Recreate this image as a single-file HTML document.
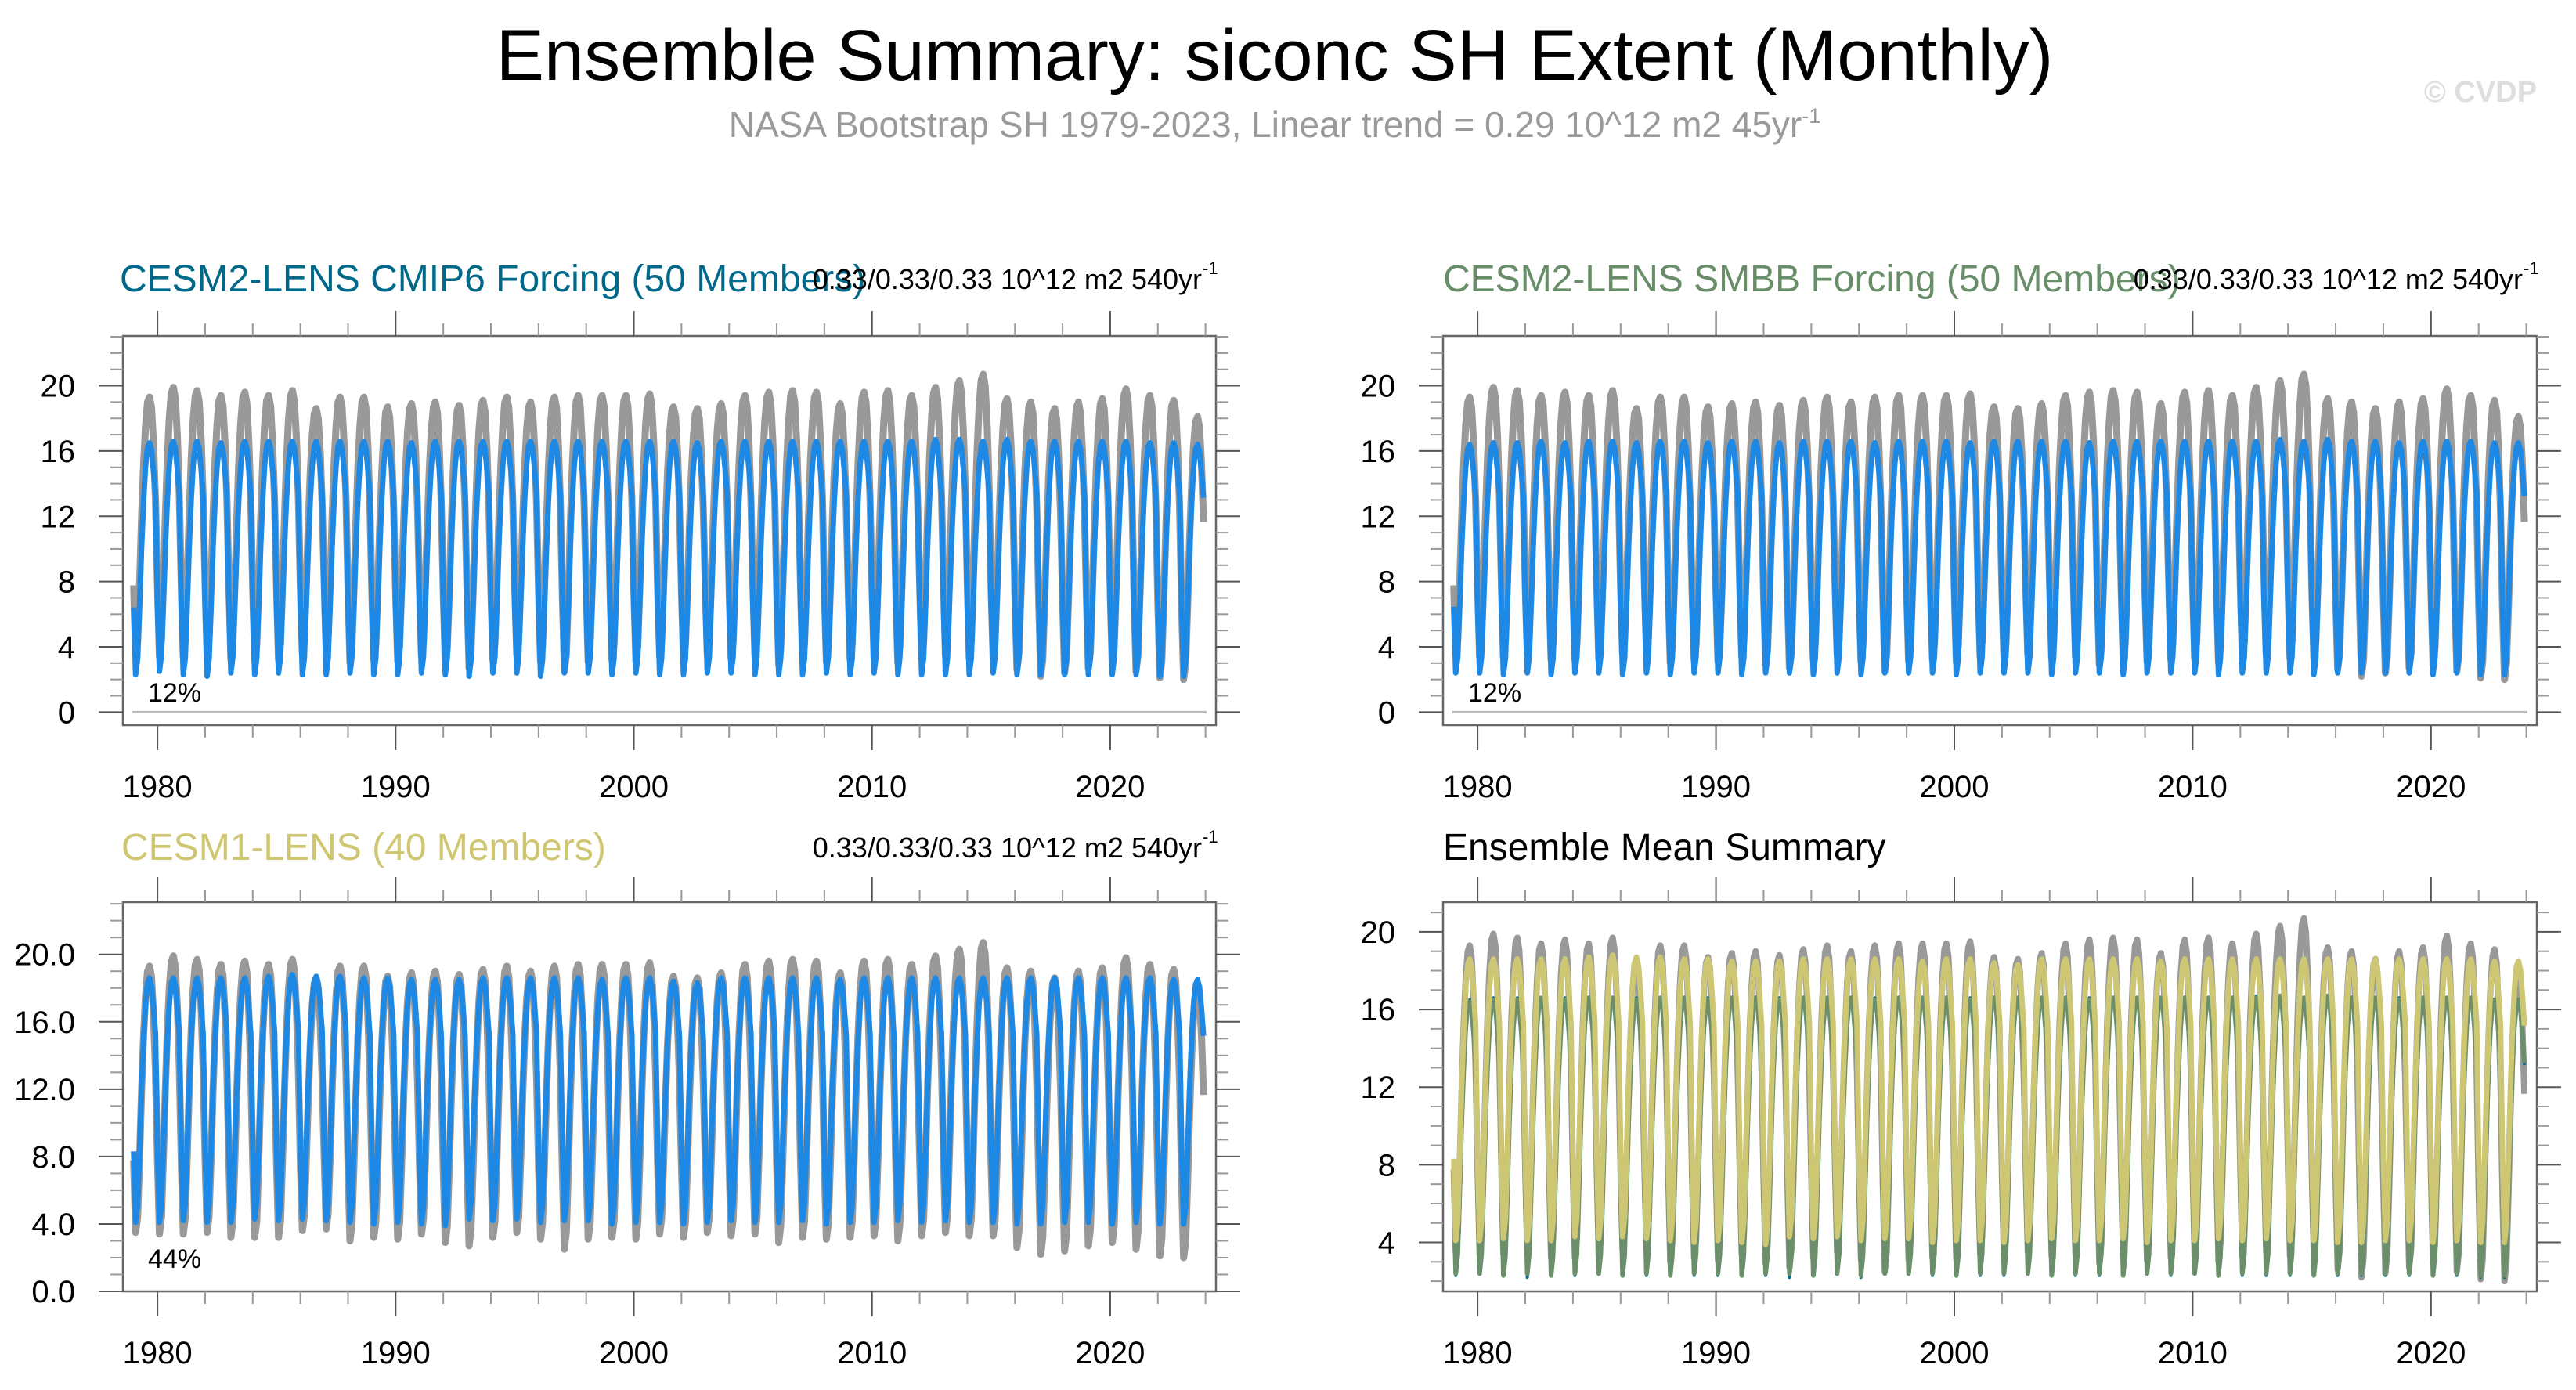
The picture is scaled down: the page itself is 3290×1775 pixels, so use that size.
<!DOCTYPE html>
<html><head><meta charset="utf-8"><style>
html,body{margin:0;padding:0;background:#fff;}
svg{display:block;font-family:"Liberation Sans",sans-serif;}
</style></head><body>
<svg id="fig" width="3290" height="1775" viewBox="0 0 3290 1775" xmlns="http://www.w3.org/2000/svg">
<text x="1628" y="102" font-size="92" text-anchor="middle" fill="#000">Ensemble Summary: siconc SH Extent (Monthly)</text>
<text x="1628" y="175" font-size="46" text-anchor="middle" fill="#9a9a9a">NASA Bootstrap SH 1979-2023, Linear trend = 0.29 10^12 m2 45yr<tspan dy="-18" font-size="27">-1</tspan></text>
<text x="3240" y="130" font-size="38" font-weight="bold" text-anchor="end" fill="#dedede">© CVDP</text>
<g id="panels"></g>
</svg>
<script>
// month-of-year seasonal shapes (Jan..Dec), 0 = Feb minimum, 1 = Sep maximum
const seasonShape = [0.29,0.0,0.07,0.30,0.55,0.75,0.90,0.98,1.0,0.97,0.88,0.77];
const obsShape = [0.27,0.0,0.06,0.28,0.53,0.74,0.89,0.98,1.0,0.96,0.82,0.60];
const years = [];
for (let y = 1979; y <= 2023; y++) years.push(y);
// Observations (NASA Bootstrap) annual max/min, 10^12 m2
const obsMax = [19.3,19.9,19.7,19.4,19.6,19.4,19.7,18.6,19.3,19.3,18.7,18.9,19.0,18.8,19.1,19.3,19.0,19.3,19.4,19.4,19.4,19.5,18.7,18.6,18.9,19.4,19.6,19.7,19.6,18.9,19.6,19.7,19.4,19.9,20.3,20.7,19.2,19.0,18.6,19.0,19.2,19.8,19.4,19.1,18.1];
const obsMin = [3.5,3.4,3.4,3.5,3.2,3.2,3.2,3.6,3.7,3.0,3.2,3.1,3.4,2.9,2.7,3.2,3.5,3.1,2.5,3.1,3.2,3.1,3.4,3.2,3.5,3.3,3.4,2.9,3.2,3.1,3.2,3.3,3.0,3.3,3.5,3.3,3.3,2.6,2.2,2.4,2.7,2.9,2.5,2.1,2.0];
// CESM2-LENS CMIP6 ensemble mean
const cmip6Max = [16.5,16.6,16.6,16.5,16.6,16.6,16.6,16.6,16.6,16.6,16.6,16.5,16.6,16.6,16.6,16.6,16.6,16.6,16.6,16.6,16.6,16.6,16.6,16.5,16.6,16.6,16.6,16.6,16.6,16.6,16.6,16.6,16.6,16.7,16.7,16.6,16.7,16.6,16.6,16.6,16.6,16.6,16.5,16.5,16.4];
const cmip6Min = [2.3,2.5,2.3,2.2,2.4,2.3,2.4,2.3,2.3,2.4,2.3,2.3,2.4,2.3,2.2,2.4,2.4,2.2,2.4,2.4,2.3,2.4,2.3,2.3,2.4,2.4,2.3,2.3,2.3,2.4,2.3,2.4,2.3,2.3,2.3,2.3,2.4,2.3,2.3,2.3,2.3,2.3,2.3,2.2,2.2];
// CESM2-LENS SMBB ensemble mean
const smbbMax = [16.4,16.5,16.5,16.6,16.5,16.6,16.6,16.5,16.6,16.6,16.5,16.6,16.6,16.5,16.6,16.6,16.6,16.5,16.6,16.6,16.6,16.5,16.6,16.6,16.6,16.6,16.5,16.6,16.6,16.6,16.6,16.6,16.6,16.6,16.7,16.6,16.7,16.6,16.6,16.5,16.6,16.6,16.6,16.5,16.5];
const smbbMin = [2.4,2.4,2.3,2.4,2.3,2.4,2.4,2.3,2.4,2.3,2.4,2.4,2.3,2.4,2.4,2.3,2.4,2.3,2.4,2.4,2.4,2.3,2.4,2.4,2.4,2.3,2.4,2.4,2.3,2.4,2.4,2.4,2.3,2.4,2.4,2.4,2.3,2.4,2.4,2.4,2.4,2.3,2.4,2.3,2.3];
// CESM1-LENS ensemble mean
const cesm1Max = [18.6,18.6,18.6,18.6,18.6,18.7,18.8,18.7,18.7,18.6,18.6,18.5,18.5,18.5,18.6,18.6,18.6,18.6,18.6,18.5,18.6,18.6,18.4,18.3,18.6,18.6,18.6,18.6,18.6,18.5,18.6,18.6,18.6,18.6,18.6,18.6,18.6,18.6,18.6,18.6,18.6,18.6,18.6,18.5,18.5];
const cesm1Min = [4.1,4.1,4.2,4.1,4.1,4.3,4.2,4.3,4.2,4.1,4.0,4.1,4.0,3.9,4.3,4.2,4.3,4.1,4.2,4.2,4.0,4.1,4.1,4.0,4.1,4.2,4.1,4.1,4.2,4.0,4.1,4.1,4.2,4.1,4.2,4.1,4.1,4.0,4.0,4.1,4.1,4.0,4.1,4.0,4.0];
const pctLabels = ["12%","12%","44%",""];
const rightText = "0.33/0.33/0.33 10^12 m2 540yr";
</script>
<script>
const NS = "http://www.w3.org/2000/svg";
const root = document.getElementById('panels');
function mk(tag, attrs, parent){ const e=document.createElementNS(NS,tag); for(const k in attrs) e.setAttribute(k,attrs[k]); (parent||root).appendChild(e); return e; }
function monthly(mx, mn, shape){ const out=[]; years.forEach((y,i)=>{ for(let m=0;m<12;m++) out.push(mn[i]+shape[m]*(mx[i]-mn[i])); }); return out; }
const obsM = monthly(obsMax, obsMin, obsShape), cmM = monthly(cmip6Max, cmip6Min, seasonShape), smM = monthly(smbbMax, smbbMin, seasonShape), c1M = monthly(cesm1Max, cesm1Min, seasonShape);

const panels = [
 {name:'cmip6', x0:157,x1:1553,y0:429,y1:926, ymin:-0.8,ymax:23.05, yt:[0,4,8,12,16,20], fmt:v=>String(v), title:'CESM2-LENS CMIP6 Forcing (50 Members)', tcol:'#00698a', tx:153, ty:372, right:true, series:[[obsM,'#999999',9,'obs'],[cmM,'#1e88e5',7,'cmip6']], pct:pctLabels[0]},
 {name:'smbb', x0:1843,x1:3240,y0:429,y1:926, ymin:-0.8,ymax:23.05, yt:[0,4,8,12,16,20], fmt:v=>String(v), title:'CESM2-LENS SMBB Forcing (50 Members)', tcol:'#678d69', tx:1843, ty:372, right:true, series:[[obsM,'#999999',9,'obs'],[smM,'#1e88e5',7,'smbb']], pct:pctLabels[1]},
 {name:'cesm1', x0:157,x1:1553,y0:1152,y1:1649, ymin:0,ymax:23.1, yt:[0,4,8,12,16,20], fmt:v=>v.toFixed(1), title:'CESM1-LENS (40 Members)', tcol:'#cfc672', tx:155, ty:1098, right:true, series:[[obsM,'#999999',9,'obs'],[c1M,'#1e88e5',7,'cesm1']], pct:pctLabels[2]},
 {name:'ensemble-mean', x0:1843,x1:3240,y0:1152,y1:1649, ymin:1.48,ymax:21.53, yt:[4,8,12,16,20], fmt:v=>String(v), title:'Ensemble Mean Summary', tcol:'#000', tx:1843, ty:1098, right:false, series:[[obsM,'#999999',8,'obs'],[cmM,'#0b6e8c',4,'cmip6'],[smM,'#6b8f6b',6,'smbb'],[c1M,'#cdc672',7,'cesm1']], pct:''}
];
const tMin=1978.55, tMax=2024.44;
panels.forEach(p=>{
  const g = mk('g',{});
  
  
  const X = t => p.x0 + (t-tMin)/(tMax-tMin)*(p.x1-p.x0);
  const Y = v => p.y1 - (v-p.ymin)/(p.ymax-p.ymin)*(p.y1-p.y0);
  const tt = mk('text',{x:p.tx,y:p.ty,'font-size':48,fill:p.tcol},g); tt.textContent=p.title;
  
  
  if(p.right){
    const rt = mk('text',{x:p.x1-18,y:p.ty-3,'font-size':36,'text-anchor':'end',fill:'#000'},g);
    rt.textContent = rightText;
    
    
    const sp = mk('text',{x:p.x1-17,y:p.ty-22,'font-size':22,fill:'#000'},g); sp.textContent='-1';
    
    
  }
  if(p.ymin<0){ const zl=mk('line',{x1:p.x0+12,x2:p.x1-12,y1:Y(0),y2:Y(0),stroke:'#bbb','stroke-width':3},g);
    
     }
  p.series.forEach(s=>{
    let d=''; s[0].forEach((v,i)=>{ d += (i?'L':'M')+X(1979+i/12).toFixed(1)+' '+Y(v).toFixed(1); });
    const pl = mk('path',{d:d,fill:'none',stroke:s[1],'stroke-width':s[2],'stroke-linejoin':'round'},g);
    
    
  });
  const bx = mk('rect',{x:p.x0,y:p.y0,width:p.x1-p.x0,height:p.y1-p.y0,fill:'none',stroke:'#666','stroke-width':2.5},g);
  
  
  for(let v=Math.ceil(p.ymin); v<=p.ymax; v++){
    const maj = p.yt.includes(v); const L = maj?31:16; const y=Y(v);
    mk('line',{x1:p.x0-L,x2:p.x0,y1:y,y2:y,stroke:maj?'#555':'#999','stroke-width':2},g);
    mk('line',{x1:p.x1,x2:p.x1+L,y1:y,y2:y,stroke:maj?'#555':'#999','stroke-width':2},g);
  }
  p.yt.forEach(v=>{ const t=mk('text',{x:p.x0-61,y:Y(v)+14,'font-size':40,'text-anchor':'end',fill:'#000'},g); t.textContent=p.fmt(v);
    
     });
  for(let yr=1980; yr<=2024; yr+=2){
    const maj = yr%10===0; const L = maj?32:16; const x=X(yr);
    mk('line',{x1:x,x2:x,y1:p.y0-L,y2:p.y0,stroke:maj?'#555':'#999','stroke-width':2},g);
    mk('line',{x1:x,x2:x,y1:p.y1,y2:p.y1+L,stroke:maj?'#555':'#999','stroke-width':2},g);
    if(maj){ const t=mk('text',{x:x,y:p.y1+92,'font-size':40,'text-anchor':'middle',fill:'#000'},g); t.textContent=String(yr);
      
       }
  }
  if(p.pct){ const t=mk('text',{x:p.x0+32,y:p.y1-30,'font-size':34,fill:'#000'},g); t.textContent=p.pct;
    
     }
});
</script>
</body></html>
